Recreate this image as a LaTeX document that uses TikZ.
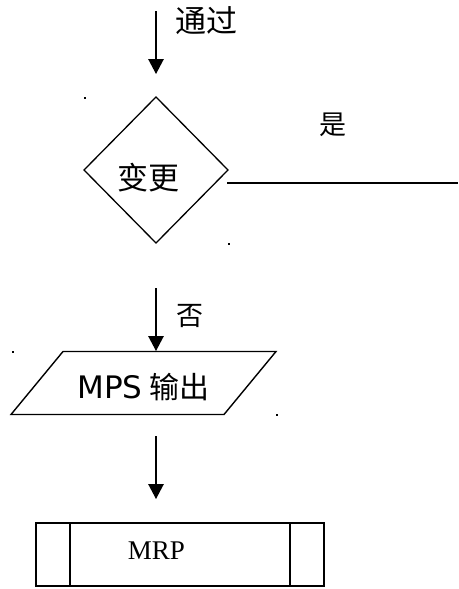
\documentclass[tikz,border=0pt]{standalone}
\usepackage{fontspec}
\setmainfont{DejaVu Sans}
\newfontfamily\cjk{Noto Sans CJK SC}
\newfontfamily\serifen{Liberation Serif}
\usetikzlibrary{arrows.meta}
\tikzset{
  x=1pt,y=-1pt,
  shapeline/.style={draw=black,line width=1.3pt},
  flow/.style={draw=black,line width=1.3pt,-{Triangle[length=15pt,width=15.5pt]}},
  plain/.style={draw=black,line width=1.6pt},
  txt/.style={inner sep=0pt,outer sep=0pt,text=black},
  speck/.style={fill=black,draw=none,minimum size=2pt,inner sep=0pt,rectangle},
}
\begin{document}
\begin{tikzpicture}
\useasboundingbox (0,0) rectangle (458,589);
% decision
\draw[shapeline] (156,97) -- (228,170) -- (156,243) -- (84,170) -- cycle;
\node[txt,font=\cjk\fontsize{31}{31}\selectfont] (change) at (148,178) {变更};
% output
\draw[shapeline,line width=1.4pt] (63,351.5) -- (276,351.5) -- (224,414.5) -- (11,414.5) -- cycle;
\node[txt,font=\fontsize{31}{31}\selectfont] (mps) at (143.5,387) {MPS\hspace{7pt}{\cjk\fontsize{30}{30}\selectfont 输出}};
\coordinate (mpstop) at (156,351);
% process
\draw[shapeline,line width=1.5pt] (36,523) rectangle (324,586);
\draw[shapeline,line width=1.5pt] (70,523) -- (70,586);
\draw[shapeline,line width=1.5pt] (290,523) -- (290,586);
\node[txt,font=\serifen\fontsize{27}{27}\selectfont] (mrp) at (156.5,550.5) {MRP};
% labels
\node[txt,font=\cjk\fontsize{31}{31}\selectfont] (pass) at (206.5,20.5) {通过};
\node[txt,font=\cjk\fontsize{27}{27}\selectfont] (yes) at (333,124.5) {是};
\node[txt,font=\cjk\fontsize{27}{27}\selectfont] (no) at (189.5,316) {否};
% connectors
\coordinate (a1s) at (156,11);
\coordinate (a1e) at (156,74);
\coordinate (a2s) at (156,288);
\coordinate (a3s) at (156,436);
\coordinate (a3e) at (156,499);
\coordinate (ls) at (227,183);
\coordinate (le) at (458,183);
\draw[flow] (a1s) -- (a1e);
\draw[flow] (a2s) -- (mpstop);
\draw[flow] (a3s) -- (a3e);
\draw[plain] (ls) -- (le);
% specks
\node[speck] (d1) at (84.5,97.5) {};
\node[speck] (d2) at (228.5,243.5) {};
\node[speck] (d3) at (12.5,351.5) {};
\node[speck] (d4) at (276.5,414.5) {};
\end{tikzpicture}
\end{document}
